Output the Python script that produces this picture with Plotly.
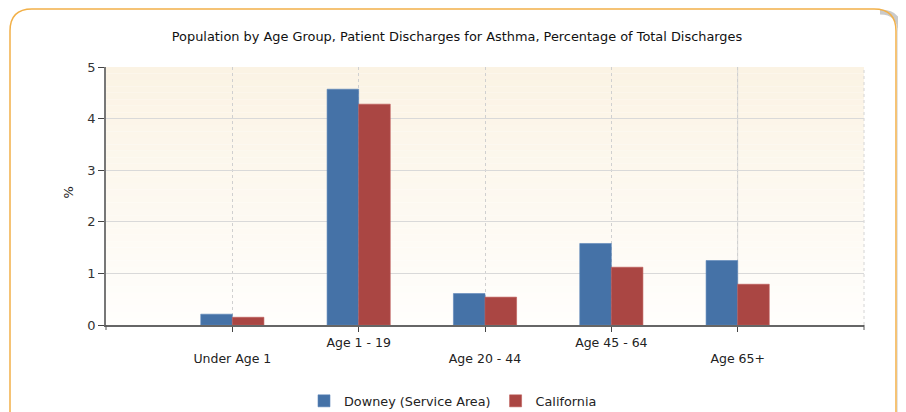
import plotly.graph_objects as go

categories = ["Under Age 1", "Age 1 - 19", "Age 20 - 44", "Age 45 - 64", "Age 65+"]
downey = [0.21, 4.57, 0.61, 1.58, 1.25]
california = [0.15, 4.28, 0.54, 1.12, 0.79]
series_names = ["Downey (Service Area)", "California"]
y_ticks = [0, 1, 2, 3, 4, 5]
title_text = "Population by Age Group, Patient Discharges for Asthma, Percentage of Total Discharges"

# staggered category labels (alternate rows)
tick_text = [("<br>" + c) if i % 2 == 0 else c for i, c in enumerate(categories)]

# the page body adds an 8px offset, so the figure is drawn 8px smaller
OFF = 8
W, H = 906 - OFF, 412 - OFF
# plot area in page pixels
L, R, T, B = 106, 864, 67, 325
PW, PH = R - L, B - T


def px(x):
    return (x - L) / PW


def py(y):
    return (B - y) / PH


font_family = "DejaVu Sans, Verdana, sans-serif"

fig = go.Figure()
fig.add_trace(go.Bar(x=categories, y=downey, name=series_names[0],
                     marker=dict(color="#4572A7", line=dict(color="#5b84b8", width=0.6))))
fig.add_trace(go.Bar(x=categories, y=california, name=series_names[1],
                     marker=dict(color="#AA4643", line=dict(color="#bd5b58", width=0.6))))

shapes = []
# gradient plot background (cream at top to white at bottom)
n = 40
top = (251, 243, 228)
bot = (255, 254, 252)
for i in range(n):
    f = i / (n - 1)
    c = tuple(round(top[k] + (bot[k] - top[k]) * f) for k in range(3))
    shapes.append(dict(type="rect", xref="paper", yref="paper",
                       x0=0, x1=1, y0=1 - (i + 1) / n, y1=1 - i / n,
                       fillcolor="rgb(%d,%d,%d)" % c, line=dict(width=0), layer="below"))
# right border dotted
shapes.append(dict(type="line", xref="paper", yref="paper", x0=1, x1=1, y0=0, y1=1,
                   line=dict(color="#d4d4d4", width=1, dash="dot"), layer="below"))
# solid vertical grid at last category
shapes.append(dict(type="line", xref="x", yref="paper", x0=4, x1=4, y0=0, y1=1,
                   line=dict(color="#d8d8d8", width=1), layer="below"))
# edge ticks on x axis
for xe in (0, 1):
    shapes.append(dict(type="line", xref="paper", yref="paper", x0=xe, x1=xe,
                       y0=0, y1=-5 / PH, line=dict(color="#555555", width=1)))
# outer rounded frame shadow
sh = "M {a},{b} L {a},{c} Q {a},{d} {e},{d}".format(
    a=px(900), b=py(420), c=py(32), d=py(12), e=px(880))
shapes.append(dict(type="path", xref="paper", yref="paper", path=sh,
                   line=dict(color="rgba(150,150,150,0.5)", width=5)))
# outer rounded frame
path = ("M {x0},{yb} L {x0},{yt1} Q {x0},{yt} {x0r},{yt} L {x1r},{yt} "
        "Q {x1},{yt} {x1},{yt1} L {x1},{yb}").format(
    x0=px(10), x0r=px(32), x1=px(896), x1r=px(874),
    yt=py(9), yt1=py(31), yb=py(420))
shapes.append(dict(type="path", xref="paper", yref="paper", path=path,
                   line=dict(color="#F2B048", width=1.5)))

fig.update_layout(
    width=W, height=H,
    margin=dict(l=L - OFF, r=(906 - OFF) - (R - OFF), t=T - OFF, b=(412 - OFF) - (B - OFF),
                autoexpand=False),
    paper_bgcolor="white",
    plot_bgcolor="rgba(0,0,0,0)",
    font=dict(family=font_family, size=12, color="#222222"),
    title=dict(text=title_text, x=(457 - OFF) / W, xanchor="center",
               y=1 - (36 - OFF) / H, yanchor="middle",
               font=dict(family=font_family, size=12.9, color="#111111")),
    barmode="group", bargap=0.5, bargroupgap=0,
    showlegend=True,
    legend=dict(orientation="h", x=px(453), xanchor="center", y=py(401), yanchor="middle",
                font=dict(size=12.8, color="#222222"), bgcolor="rgba(0,0,0,0)",
                itemwidth=30, traceorder="normal"),
    shapes=shapes,
    annotations=[dict(text="%", xref="paper", yref="paper", x=px(58), y=py(193),
                      textangle=-90, showarrow=False,
                      font=dict(size=13, color="#222222"))],
)
fig.update_xaxes(
    type="category", range=[-1, 5],
    tickmode="array", tickvals=categories, ticktext=tick_text,
    showgrid=True, gridcolor="#d0d0d0", griddash="dot", gridwidth=1,
    showline=True, linecolor="#666666", linewidth=1.5,
    ticks="outside", ticklen=5, tickcolor="#444444",
    tickfont=dict(size=12.5, color="#222222"),
)
fig.update_yaxes(
    range=[0, 5], tickvals=y_ticks,
    showgrid=True, gridcolor="#d9d9d9", gridwidth=1,
    showline=True, linecolor="#777777", linewidth=1.5,
    ticks="outside", ticklen=6, tickcolor="#444444",
    tickfont=dict(size=13, color="#333333"),
    zeroline=False,
)

fig.write_html("out.html")
